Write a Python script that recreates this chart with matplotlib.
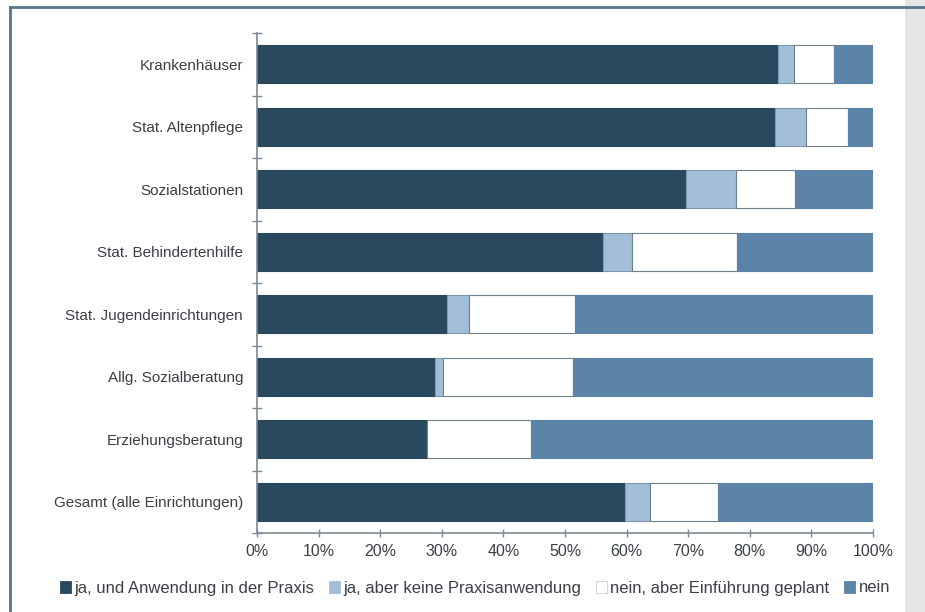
import numpy as np
import matplotlib.pyplot as plt
from matplotlib.patches import Rectangle
from matplotlib.lines import Line2D

plt.rcParams['font.family'] = ['Liberation Sans', 'DejaVu Sans']

# Data (percent shares)
categories = ["Krankenhäuser", "Stat. Altenpflege", "Sozialstationen",
              "Stat. Behindertenhilfe", "Stat. Jugendeinrichtungen",
              "Allg. Sozialberatung", "Erziehungsberatung",
              "Gesamt (alle Einrichtungen)"]
ja_praxis = [84.5, 84.1, 69.6, 56.2, 30.9, 28.9, 27.6, 59.8]
ja_keine = [2.6, 5.0, 8.1, 4.7, 3.5, 1.3, 0.0, 4.0]
nein_geplant = [6.5, 6.8, 9.6, 17.0, 17.2, 21.1, 16.8, 11.1]
nein = [6.4, 4.1, 12.7, 22.1, 48.4, 48.7, 55.6, 25.1]

series_labels = ["ja, und Anwendung in der Praxis", "ja, aber keine Praxisanwendung",
                 "nein, aber Einführung geplant", "nein"]
colors = ["#294a5e", "#a3bfd8", "#ffffff", "#5c84a8"]
edges = ["#294a5e", "#7d97ad", "#6f7f8a", "#5c84a8"]

text_col = "#3a4046"

fig = plt.figure(figsize=(9.25, 6.12), dpi=100)
ax = fig.add_axes([257/925, 1-533/612, 616/925, 500/612])

y = np.arange(len(categories))
left = np.zeros(len(categories))
for vals, c, ec, lab in zip([ja_praxis, ja_keine, nein_geplant, nein], colors, edges, series_labels):
    vals = np.array(vals)
    ax.barh(y, vals, left=left, height=0.61, color=c, edgecolor=ec, linewidth=0.8, label=lab)
    left += vals

ax.set_xlim(0, 100)
ax.set_ylim(len(categories)-0.5, -0.5)

# category labels at bar centers, tick marks between categories
ax.set_yticks(y)
ax.set_yticklabels(categories, fontsize=11, color=text_col)
ax.tick_params(axis='y', which='major', length=0, pad=10)
ax.set_yticks(np.arange(-0.5, len(categories)), minor=True)
ax.tick_params(axis='y', which='minor', direction='inout', length=7, color="#7a8a96", width=1)

ax.set_xticks(np.arange(0, 101, 10))
ax.set_xticklabels([f"{v}%" for v in range(0, 101, 10)], fontsize=11.5, color=text_col)
ax.tick_params(axis='x', direction='inout', length=6, color="#7a8a96", width=1, pad=5)

for s in ['top', 'right']:
    ax.spines[s].set_visible(False)
for s in ['left', 'bottom']:
    ax.spines[s].set_color("#7a8a96")
    ax.spines[s].set_linewidth(1.2)

# legend with small square handles
handles = [Rectangle((0, 0), 1, 1, facecolor=c, edgecolor=ec, linewidth=0.6)
           for c, ec in zip(colors, ["#294a5e", "#a3bfd8", "#c8ced3", "#5c84a8"])]
leg = fig.legend(handles, series_labels, loc='center left', bbox_to_anchor=(60/925, 1-588/612),
                 ncol=4, frameon=False, fontsize=12, handlelength=0.65, handleheight=0.75,
                 handletextpad=0.2, columnspacing=0.9, borderaxespad=0, borderpad=0)
for t in leg.get_texts():
    t.set_color(text_col)

# page frame of the scanned figure
fig.patches.append(Rectangle((905/925, 0), 20/925, 1, transform=fig.transFigure,
                             facecolor="#e4e5e7", edgecolor='none', zorder=-1))
fig.lines.append(Line2D([10/925, 10/925], [0, 1-7/612], transform=fig.transFigure,
                        color="#56768c", linewidth=2))
fig.lines.append(Line2D([10/925, 1], [1-7/612, 1-7/612], transform=fig.transFigure,
                        color="#56768c", linewidth=2))

fig.savefig("out.png", dpi=100)
